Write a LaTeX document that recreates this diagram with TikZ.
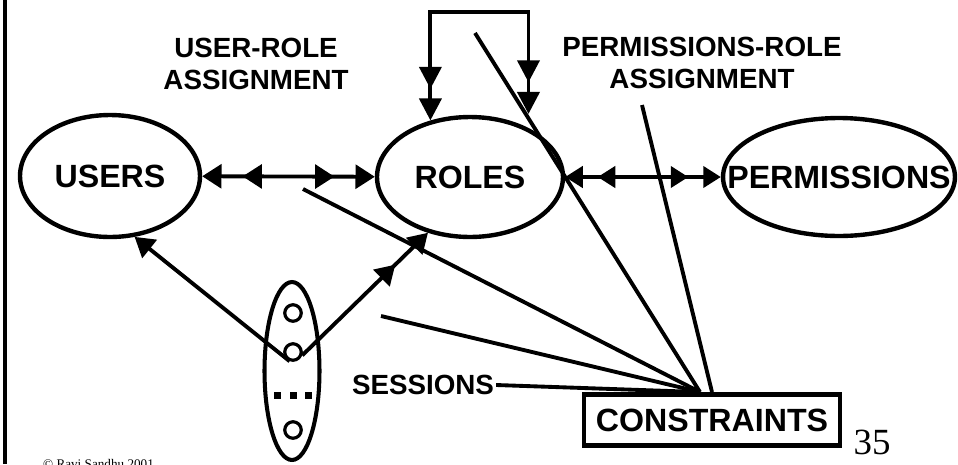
\documentclass[tikz,border=0pt]{standalone}
\usepackage{fontspec}
\setmainfont{Liberation Sans}
\newfontfamily\timesfont{Liberation Serif}
\usepackage{tikz}
\usetikzlibrary{shapes.geometric, arrows.meta}
\tikzstyle{bigtext} = [font=\fontsize{18.3}{22}\selectfont\bfseries]
\tikzstyle{small} = [font=\fontsize{15.8}{18.7}\selectfont\bfseries, align=center, inner sep=1pt]
\tikzstyle{entity} = [ellipse, draw, line width=2.5pt, inner sep=0pt]
\tikzstyle{member} = [circle, draw, line width=1.8pt, minimum size=0.33cm, inner sep=0pt]
\tikzstyle{box} = [rectangle, draw, line width=2.8pt, minimum width=5.12cm, minimum height=1.02cm, bigtext]
\tikzstyle{link} = [line width=2.2pt]
\tikzstyle{ua} = [link, {Triangle[length=11pt,width=13.5pt]Triangle[length=11pt,width=13.5pt,sep=12pt]}-{Triangle[length=11pt,width=13.5pt,sep=12pt]Triangle[length=11pt,width=13.5pt]}]
\tikzstyle{pa} = [link, {Triangle[length=10pt,width=12pt]Triangle[length=10pt,width=12pt,sep=8.5pt]}-{Triangle[length=10pt,width=12pt,sep=8.5pt]Triangle[length=10pt,width=12pt]}]
\tikzstyle{rh} = [link, {Triangle[length=12.5pt,width=12.5pt]Triangle[length=12.5pt,width=12.5pt,sep=5.5pt]}-{Triangle[length=12.5pt,width=12.5pt,sep=5.5pt]Triangle[length=12.5pt,width=12.5pt]}]
\tikzstyle{tomany} = [link, -{Triangle[length=11pt,width=13pt,sep=15pt]Triangle[length=11pt,width=13pt]}]
\tikzstyle{toone} = [link, -{Triangle[length=11pt,width=13pt]}]

\begin{document}
\begin{tikzpicture}[x=0.02cm, y=-0.02cm]
  \useasboundingbox (0,0) rectangle (958,464);
  \draw [line width=2.2pt] (5,0) -- (5,464);

  \node (users) [entity, minimum width=3.6cm, minimum height=2.44cm, label={[bigtext]center:USERS}] at (110,176) {};
  \node (roles) [entity, minimum width=3.72cm, minimum height=2.4cm, label={[bigtext]center:ROLES}] at (470,177) {};
  \node (perms) [entity, minimum width=4.64cm, minimum height=2.36cm, label={[bigtext]center:PERMISSIONS}] at (839,177) {};

  \node (sess) [ellipse, draw, line width=2.3pt, minimum width=1.1cm, minimum height=3.56cm] at (292,371) {};
  \node (s1) [member] at (293,313) {};
  \node (s2) [member] at (293,352) {};
  \node (s3) [member] at (293,430) {};
  \foreach \x in {277,293,308}
    \fill (\x-3.5,391.5) rectangle (\x+3.5,398.5);

  \node (cons) [box] at (712,420) {CONSTRAINTS};

  \node (ura) [small] at (256,64) {USER-ROLE\\ASSIGNMENT};
  \node (pra) [small] at (702,63) {PERMISSIONS-ROLE\\ASSIGNMENT};
  \node (seslbl) [small] at (423,385) {SESSIONS};
  \node (page) [font=\timesfont\fontsize{21}{24}\selectfont] at (872,442) {35};
  \node (copy) [font=\timesfont\fontsize{7.5}{9}\selectfont, anchor=base west] at (37,468) {© Ravi Sandhu 2001};

  \draw [ua] (users) -- (roles);
  \draw [pa] (roles) -- (perms);
  \coordinate (hier) at (478,12);
  \draw [rh, shorten >=0.28cm] (roles.125) |- (hier) -| (roles.40);

  \draw [toone] (s2.-110) -- (users.-68);
  \draw [tomany] (s2.-20) -- (roles.-127);

  % constraint lines
  \coordinate (c1) at (303,189);
  \coordinate (c2) at (381,316);
  \coordinate (c3) at (475,33);
  \coordinate (c4) at (642,105);
  \draw [link] (c1) -- ([xshift=-0.24cm]cons.north);
  \draw [link] (c2) -- ([xshift=-0.24cm]cons.north);
  \draw [link] (c3) -- ([xshift=-0.24cm]cons.north);
  \draw [link] (seslbl.east) -- ([xshift=-0.24cm]cons.north);
  \draw [link] (c4) -- (cons.north);
\end{tikzpicture}
\end{document}
